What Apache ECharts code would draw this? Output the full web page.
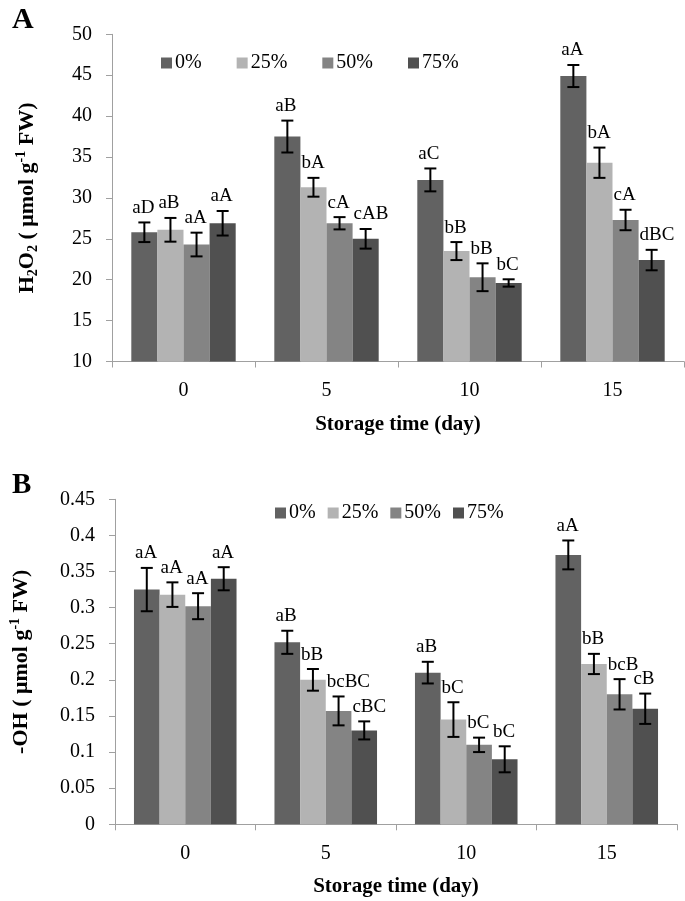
<!DOCTYPE html>
<html>
<head>
<meta charset="utf-8">
<script src="https://cdn.jsdelivr.net/npm/echarts@6/dist/echarts.min.js"></script>
<style>
  html, body { margin: 0; padding: 0; background: #fff; }
  #chart { width: 685px; height: 901px; }
</style>
</head>
<body>
<div id="chart"></div>
<script>
// ---------- data ----------
const categories = ['0', '5', '10', '15'];
const seriesNames = ['0%', '25%', '50%', '75%'];

// Panel A: H2O2 (µmol g-1 FW)
const h2o2_0  = [25.8, 37.5, 32.2, 44.9];
const h2o2_25 = [26.1, 31.3, 23.5, 34.3];
const h2o2_50 = [24.3, 26.9, 20.3, 27.3];
const h2o2_75 = [26.9, 25.0, 19.6, 22.4];
const h2o2Err_0  = [1.2, 1.95, 1.4, 1.35];
const h2o2Err_25 = [1.45, 1.15, 1.1, 1.85];
const h2o2Err_50 = [1.45, 0.75, 1.7, 1.25];
const h2o2Err_75 = [1.5, 1.2, 0.45, 1.25];
const h2o2Lab_0  = ['aD', 'aB', 'aC', 'aA'];
const h2o2Lab_25 = ['aB', 'bA', 'bB', 'bA'];
const h2o2Lab_50 = ['aA', 'cA', 'bB', 'cA'];
const h2o2Lab_75 = ['aA', 'cAB', 'bC', 'dBC'];
const h2o2Ticks = { min: 10, max: 50, interval: 5 };

// Panel B: -OH (µmol g-1 FW)
const oh_0  = [0.325, 0.252, 0.21, 0.373];
const oh_25 = [0.318, 0.2, 0.145, 0.222];
const oh_50 = [0.302, 0.157, 0.11, 0.18];
const oh_75 = [0.34, 0.13, 0.09, 0.16];
const ohErr_0  = [0.03, 0.016, 0.015, 0.02];
const ohErr_25 = [0.017, 0.015, 0.024, 0.014];
const ohErr_50 = [0.018, 0.02, 0.01, 0.021];
const ohErr_75 = [0.016, 0.0125, 0.018, 0.021];
const ohLab_0  = ['aA', 'aB', 'aB', 'aA'];
const ohLab_25 = ['aA', 'bB', 'bC', 'bB'];
const ohLab_50 = ['aA', 'bcBC', 'bC', 'bcB'];
const ohLab_75 = ['aA', 'cBC', 'bC', 'cB'];
const ohTicks = { min: 0, max: 0.45, interval: 0.05 };

// ---------- styling ----------
const FONT = '"Liberation Serif", "Times New Roman", serif';
const COLORS = ['#626262', '#b3b3b3', '#848484', '#505050'];
const GAP = 0.27;
const AXIS_GRAY = '#a0a0a0';

const panelA = [
  { v: h2o2_0, e: h2o2Err_0, l: h2o2Lab_0 },
  { v: h2o2_25, e: h2o2Err_25, l: h2o2Lab_25 },
  { v: h2o2_50, e: h2o2Err_50, l: h2o2Lab_50 },
  { v: h2o2_75, e: h2o2Err_75, l: h2o2Lab_75 }
];
const panelB = [
  { v: oh_0, e: ohErr_0, l: ohLab_0 },
  { v: oh_25, e: ohErr_25, l: ohLab_25 },
  { v: oh_50, e: ohErr_50, l: ohLab_50 },
  { v: oh_75, e: ohErr_75, l: ohLab_75 }
];

function barSeries(name, values, k, axisIdx) {
  return {
    type: 'bar', name: name, xAxisIndex: axisIdx, yAxisIndex: axisIdx,
    data: values, barGap: '0%', barCategoryGap: (GAP * 100) + '%',
    itemStyle: { color: COLORS[k] }, silent: true
  };
}

function errSeries(name, values, errs, labels, k, axisIdx) {
  return {
    type: 'custom', name: name + ' err', xAxisIndex: axisIdx, yAxisIndex: axisIdx,
    z: 10, clip: false, silent: true,
    data: values.map((v, i) => [i, v, errs[i]]),
    encode: { x: 0, y: 1 },
    renderItem: function (params, api) {
      const cat = api.value(0), v = api.value(1), e = api.value(2);
      const band = api.size([1, 0])[0];
      const bw = band * (1 - GAP) / 4;
      const c = api.coord([cat, v]);
      const x = c[0] + (k - 1.5) * bw;
      const yT = api.coord([cat, v + e])[1];
      const yB = api.coord([cat, v - e])[1];
      const ls = { stroke: '#000', lineWidth: 2 };
      return {
        type: 'group',
        children: [
          { type: 'line', shape: { x1: x, y1: yT, x2: x, y2: yB }, style: ls },
          { type: 'line', shape: { x1: x - 6, y1: yT, x2: x + 6, y2: yT }, style: ls },
          { type: 'line', shape: { x1: x - 6, y1: yB, x2: x + 6, y2: yB }, style: ls },
          { type: 'text', style: {
              text: labels[params.dataIndex], x: x - bw / 2 + 1, y: yT - 5,
              align: 'left', verticalAlign: 'bottom',
              font: '19px ' + FONT, fill: '#000' } }
        ]
      };
    }
  };
}

const series = [];
panelA.forEach((s, k) => series.push(barSeries(seriesNames[k], s.v, k, 0)));
panelB.forEach((s, k) => series.push(barSeries(seriesNames[k], s.v, k, 1)));
panelA.forEach((s, k) => series.push(errSeries(seriesNames[k], s.v, s.e, s.l, k, 0)));
panelB.forEach((s, k) => series.push(errSeries(seriesNames[k], s.v, s.e, s.l, k, 1)));

const nameRich = {
  sub: { fontSize: 14, fontWeight: 'bold', fontFamily: FONT, color: '#000', verticalAlign: 'bottom', lineHeight: 14 },
  sup: { fontSize: 14, fontWeight: 'bold', fontFamily: FONT, color: '#000', verticalAlign: 'top', lineHeight: 14 }
};

function xAxis(gridIndex, gap) {
  return {
    type: 'category', gridIndex: gridIndex, data: categories,
    axisLine: { lineStyle: { color: AXIS_GRAY, width: 1 } },
    axisTick: { show: true, length: 6, lineStyle: { color: AXIS_GRAY } },
    axisLabel: { color: '#000', fontFamily: FONT, fontSize: 20, margin: 19 },
    name: 'Storage time (day)', nameLocation: 'middle', nameGap: gap,
    nameTextStyle: { color: '#000', fontFamily: FONT, fontSize: 21, fontWeight: 'bold' }
  };
}

function yAxis(gridIndex, ticks, name, gap) {
  return {
    type: 'value', gridIndex: gridIndex, min: ticks.min, max: ticks.max, interval: ticks.interval,
    axisLine: { show: true, lineStyle: { color: AXIS_GRAY, width: 1 } },
    axisTick: { show: true, length: 6, lineStyle: { color: AXIS_GRAY } },
    axisLabel: { color: '#000', fontFamily: FONT, fontSize: 20, margin: 20 },
    splitLine: { show: false },
    name: name, nameLocation: 'middle', nameGap: gap,
    nameTextStyle: { color: '#000', fontFamily: FONT, fontSize: 22, fontWeight: 'bold', lineHeight: 26, rich: nameRich }
  };
}

function legend(left, top, gap) {
  return {
    data: seriesNames, left: left, top: top, itemGap: gap, padding: 0,
    icon: 'rect', itemWidth: 11, itemHeight: 11, selectedMode: false,
    textStyle: { color: '#000', fontFamily: FONT, fontSize: 20, padding: [0, 0, 0, -2] }
  };
}

const option = {
  animation: false,
  backgroundColor: '#fff',
  grid: [
    { left: 112, right: 1, top: 34.3, bottom: 539.5 },
    { left: 111.5, right: 8, top: 499.3, bottom: 76.7 }
  ],
  legend: [legend(161, 53, 35), legend(275, 503, 12)],
  xAxis: [xAxis(0, 53), xAxis(1, 52)],
  yAxis: [
    yAxis(0, h2o2Ticks, 'H{sub|2}O{sub|2} ( μmol g{sup|-1} FW)', 72),
    yAxis(1, ohTicks, '-OH ( μmol g{sup|-1} FW)', 81)
  ],
  graphic: [
    { type: 'text', left: 12, top: 5, style: { text: 'A', font: 'bold 30px ' + FONT, fill: '#000' } },
    { type: 'text', left: 12, top: 471, style: { text: 'B', font: 'bold 29px ' + FONT, fill: '#000' } }
  ],
  series: series
};

const chart = echarts.init(document.getElementById('chart'), null, { renderer: 'canvas' });
chart.setOption(option);
</script>
</body>
</html>
